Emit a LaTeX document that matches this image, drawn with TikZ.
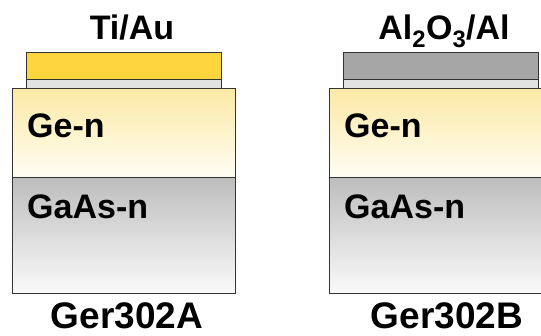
\documentclass[tikz,border=0pt]{standalone}
\usepackage{fontspec}
\setmainfont{Liberation Sans}
\usepackage{tikz}
\definecolor{goldColor}{HTML}{FFD53D}
\definecolor{alColor}{HTML}{A6A6A6}
\definecolor{thinColor}{HTML}{E2E2E2}
\definecolor{geTop}{HTML}{FCE9A4}
\definecolor{geBottom}{HTML}{FFFDF4}
\definecolor{gaasTop}{HTML}{BDBDBD}
\definecolor{gaasBottom}{HTML}{FAFAFA}
\definecolor{edgeColor}{HTML}{333333}

\begin{document}
\begin{tikzpicture}[x=1pt, y=-1pt,
    layer/.style={draw=edgeColor, line width=0.9pt},
    lbl/.style={font=\fontsize{34}{36}\bfseries\selectfont, inner sep=0pt},
    samplename/.style={font=\fontsize{37}{40}\bfseries\selectfont, inner sep=0pt}]
    \useasboundingbox (0,0) rectangle (541,335);
    % sample A: Ti/Au contact
    \draw[layer, top color=geTop, bottom color=geBottom] (12.5,88) rectangle (235,177);
    \draw[layer, top color=gaasTop, bottom color=gaasBottom] (12.5,177) rectangle (235,293);
    \draw[layer, fill=thinColor] (26,79) rectangle (221,88);
    \draw[layer, fill=goldColor] (26,52) rectangle (221,79);
    \node[lbl, anchor=base] (contactA) at (132,39) {Ti/Au};
    \node[lbl, anchor=base west] (geA) at (27,137) {Ge-n};
    \node[lbl, anchor=base west] (gaasA) at (27,218) {GaAs-n};
    \node[samplename, anchor=base] (sampleA) at (127,328) {Ger302A};
    % sample B: Al2O3/Al contact
    \draw[layer, top color=geTop, bottom color=geBottom] (329,88) rectangle (552,177);
    \draw[layer, top color=gaasTop, bottom color=gaasBottom] (329,177) rectangle (552,293);
    \draw[layer, fill=thinColor] (343,79) rectangle (538,88);
    \draw[layer, fill=alColor] (343,52) rectangle (538,79);
    \node[lbl, anchor=base] (contactB) at (444,39) {Al\textsubscript{2}O\textsubscript{3}/Al};
    \node[lbl, anchor=base west] (geB) at (344,137) {Ge-n};
    \node[lbl, anchor=base west] (gaasB) at (344,218) {GaAs-n};
    \node[samplename, anchor=base] (sampleB) at (447,328) {Ger302B};
\end{tikzpicture}
\end{document}
